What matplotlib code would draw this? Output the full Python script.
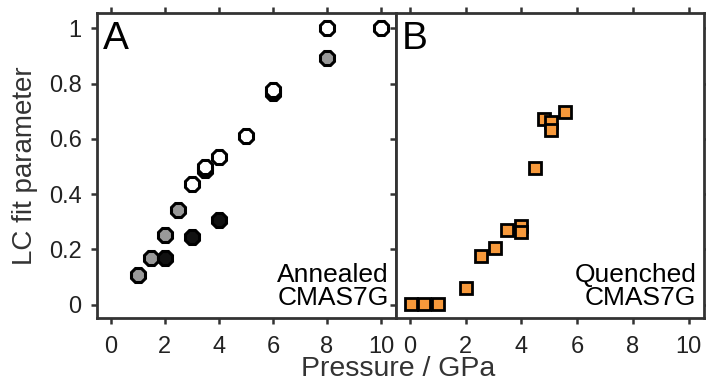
import matplotlib
matplotlib.use("Agg")
import matplotlib.pyplot as plt

plt.rcParams['font.family'] = ['Liberation Sans', 'DejaVu Sans']

# Panel A: annealed CMAS7G (three groups of samples)
white_p = [3.0, 3.5, 3.5, 4.0, 5.0, 6.0, 6.0, 8.0, 10.0]
white_v = [0.438, 0.486, 0.498, 0.534, 0.610, 0.764, 0.776, 1.0, 1.0]
gray_p = [1.0, 1.5, 2.0, 2.5, 8.0]
gray_v = [0.109, 0.168, 0.253, 0.341, 0.891]
black_p = [2.0, 3.0, 4.0]
black_v = [0.168, 0.244, 0.305]

# Panel B: quenched CMAS7G
quench_p = [0.05, 0.5, 1.0, 2.0, 2.55, 3.05, 3.5, 4.0, 4.0, 4.5, 4.8, 5.05, 5.05, 5.55]
quench_v = [0.003, 0.003, 0.003, 0.06, 0.175, 0.205, 0.272, 0.284, 0.262, 0.494, 0.670, 0.661, 0.631, 0.697]

xticks = [0, 2, 4, 6, 8, 10]
yticks = [0, 0.2, 0.4, 0.6, 0.8, 1.0]
ytick_labels = ['0', '0.2', '0.4', '0.6', '0.8', '1']

W, H = 706, 385
fig = plt.figure(figsize=(W / 100, H / 100), dpi=100)

def px(x0, x1, y0, y1):
    return [x0 / W, 1 - y1 / H, (x1 - x0) / W, (y1 - y0) / H]

axA = fig.add_axes(px(97, 396, 13, 318))
axB = fig.add_axes(px(396, 704, 13, 318))

spine_col = '#333333'
for ax in (axA, axB):
    ax.set_xlim(-0.5, 10.55)
    ax.set_ylim(-0.048, 1.055)
    ax.set_xticks(xticks)
    ax.set_yticks(yticks)
    ax.tick_params(direction='out', length=4, width=1.8, color=spine_col,
                   top=True, right=True, labelsize=17, labelcolor='#222222')
    ax.tick_params(axis='x', pad=9)
    ax.tick_params(axis='y', pad=7)
    for s in ax.spines.values():
        s.set_linewidth(2)
        s.set_color(spine_col)

axA.set_yticklabels(ytick_labels)
axB.tick_params(labelleft=False)
axA.set_xticklabels([str(t) for t in xticks])
axB.set_xticklabels([str(t) for t in xticks])

ms = 10.5
axA.plot(white_p, white_v, linestyle='none', marker='8', ms=ms, mfc='white', mec='black', mew=2.2, zorder=3)
axA.plot(gray_p, gray_v, linestyle='none', marker='8', ms=ms, mfc='#999999', mec='black', mew=2.2, zorder=3)
axA.plot(black_p, black_v, linestyle='none', marker='8', ms=ms, mfc='#111111', mec='black', mew=2.2, zorder=3)

axB.plot(quench_p, quench_v, linestyle='none', marker='s', ms=9, mfc='#F7993B', mec='black', mew=2.0, zorder=3)

axA.text(0.02, 0.975, 'A', transform=axA.transAxes, ha='left', va='top', fontsize=28)
axB.text(0.02, 0.975, 'B', transform=axB.transAxes, ha='left', va='top', fontsize=28)
axA.text(0.975, 0.025, 'Annealed\nCMAS7G', transform=axA.transAxes, ha='right', va='bottom',
         fontsize=19, linespacing=0.95)
axB.text(0.975, 0.025, 'Quenched\nCMAS7G', transform=axB.transAxes, ha='right', va='bottom',
         fontsize=19, linespacing=0.95)

axA.set_ylabel('LC fit parameter', fontsize=20, color='#333333', labelpad=8)
fig.text(398 / W, 1 - 369 / H, 'Pressure / GPa', ha='center', va='center', fontsize=20.5, color='#333333')

fig.savefig('out.png', dpi=100)
